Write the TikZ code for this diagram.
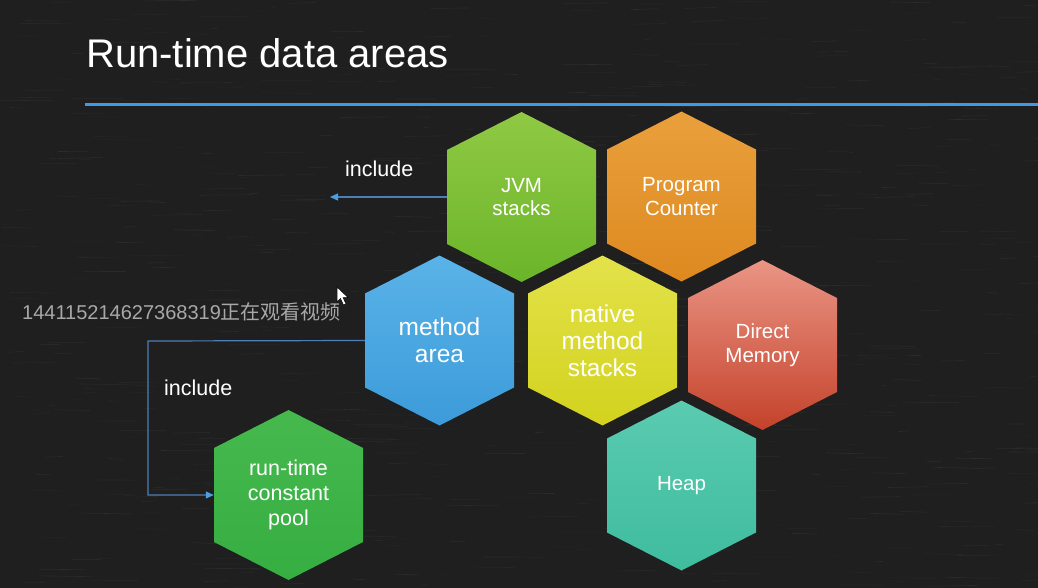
\documentclass[tikz,border=0pt]{standalone}
\usepackage{fontspec}
\setmainfont{Liberation Sans}
\newfontfamily\cjkfont{Noto Sans CJK SC}
\usetikzlibrary{arrows.meta}

\definecolor{board}{HTML}{1F1F1F}
\definecolor{rule}{HTML}{3F9AE5}
\definecolor{linkblue}{HTML}{4C7FB3}
\definecolor{tipblue}{HTML}{4A9FE3}
\definecolor{mark}{HTML}{A8A8A8}
\definecolor{jvmtop}{HTML}{90C944}\definecolor{jvmbot}{HTML}{6BB52A}
\definecolor{pctop}{HTML}{E9A03C}\definecolor{pcbot}{HTML}{DE8920}
\definecolor{matop}{HTML}{5AB3E8}\definecolor{mabot}{HTML}{3C9BD9}
\definecolor{nmtop}{HTML}{E3E24A}\definecolor{nmbot}{HTML}{D2D21E}
\definecolor{dmtop}{HTML}{EA9585}\definecolor{dmbot}{HTML}{C4422B}
\definecolor{rctop}{HTML}{46B94D}\definecolor{rcbot}{HTML}{36AE42}
\definecolor{hptop}{HTML}{5ACBB0}\definecolor{hpbot}{HTML}{3FBC9E}

% shaded pointy-top hexagon: centre x, centre y, top colour, bottom colour
\newcommand\hexfill[4]{%
  \shade[top color=#3,bottom color=#4]
    (#1,#2-85) -- (#1+74.5,#2-47) -- (#1+74.5,#2+47) -- (#1,#2+85)
    -- (#1-74.5,#2+47) -- (#1-74.5,#2-47) -- cycle;}

\begin{document}
\begin{tikzpicture}[x=1pt,y=-1pt,
  hexbox/.style={minimum width=149pt,minimum height=170pt,inner sep=0pt,
                 text=white,align=center},
  smalltext/.style={font=\fontsize{20.5}{23.5}\selectfont},
  largetext/.style={font=\fontsize{24.5}{27}\selectfont},
  link/.style={draw=linkblue,line width=1.2pt,
               -{Triangle[length=8pt,width=7pt,color=tipblue]}},
  lbl/.style={text=white,font=\fontsize{21.5}{24}\selectfont,
              anchor=base west,inner sep=0pt}]

% chalkboard
\useasboundingbox (0,0) rectangle (1038,588);
\fill[board] (0,0) rectangle (1038,588);
\begin{scope}
  \clip (0,0) rectangle (1038,588);
  \pgfmathsetseed{42}
  \foreach \k in {1,...,700}{
    \pgfmathsetmacro\xa{rnd*1038}
    \pgfmathsetmacro\ya{rnd*588}
    \pgfmathsetmacro\len{6+rnd*50}
    \pgfmathsetmacro\op{0.015+rnd*0.045}
    \draw[white,opacity=\op,line width=0.6pt] (\xa,\ya) -- ++(\len,rnd*2-1);
  }
\end{scope}

% title
\node[text=white,font=\fontsize{40}{44}\selectfont,anchor=base west,inner sep=0pt]
  (title) at (86,68) {Run-time data areas};
\draw[rule,line width=3pt] (85,105) -- (1038,105);

% hexagons
\hexfill{521.5}{197}{jvmtop}{jvmbot}
\hexfill{681.5}{196.5}{pctop}{pcbot}
\hexfill{439.5}{340.5}{matop}{mabot}
\hexfill{602.5}{340.5}{nmtop}{nmbot}
\hexfill{762.5}{345}{dmtop}{dmbot}
\hexfill{681.5}{485.5}{hptop}{hpbot}
\hexfill{288.5}{495}{rctop}{rcbot}

\node[hexbox,smalltext] (jvm)  at (521.5,197)   {JVM\\stacks};
\node[hexbox,smalltext] (pc)   at (681.5,196.5) {Program\\Counter};
\node[hexbox,largetext] (ma)   at (439.5,340.5) {method\\area};
\node[hexbox,largetext] (nms)  at (602.5,340.5) {native\\method\\stacks};
\node[hexbox,smalltext] (dm)   at (762.5,345)   {Direct\\Memory};
\node[hexbox,smalltext] (heap) at (681.5,485.5) {Heap};
\node[hexbox,font=\fontsize{21.5}{25}\selectfont] (rcp) at (288.5,495)
  {run-time\\constant\\pool};

% include links
\coordinate (jvmout) at (330,197);
\draw[link] (jvm.west) -- (jvmout);
\node[lbl] (inc1) at (345,177) {include};

\draw[link] (ma.west) -- (148,341) |- (rcp.west);
\node[lbl] (inc2) at (164,395) {include};

% viewer mark and pointer
\node[text=mark,font=\fontsize{20}{22}\selectfont,anchor=base west,inner sep=0pt]
  (viewer) at (22,319) {144115214627368319{\cjkfont 正在观看视频}};
\filldraw[fill=white,draw=black,line width=0.5pt]
  (337,287) -- (337,302) -- (340.5,298.5) -- (343.5,305) -- (346,304)
  -- (343,297.5) -- (348,297.5) -- cycle;
\end{tikzpicture}
\end{document}
